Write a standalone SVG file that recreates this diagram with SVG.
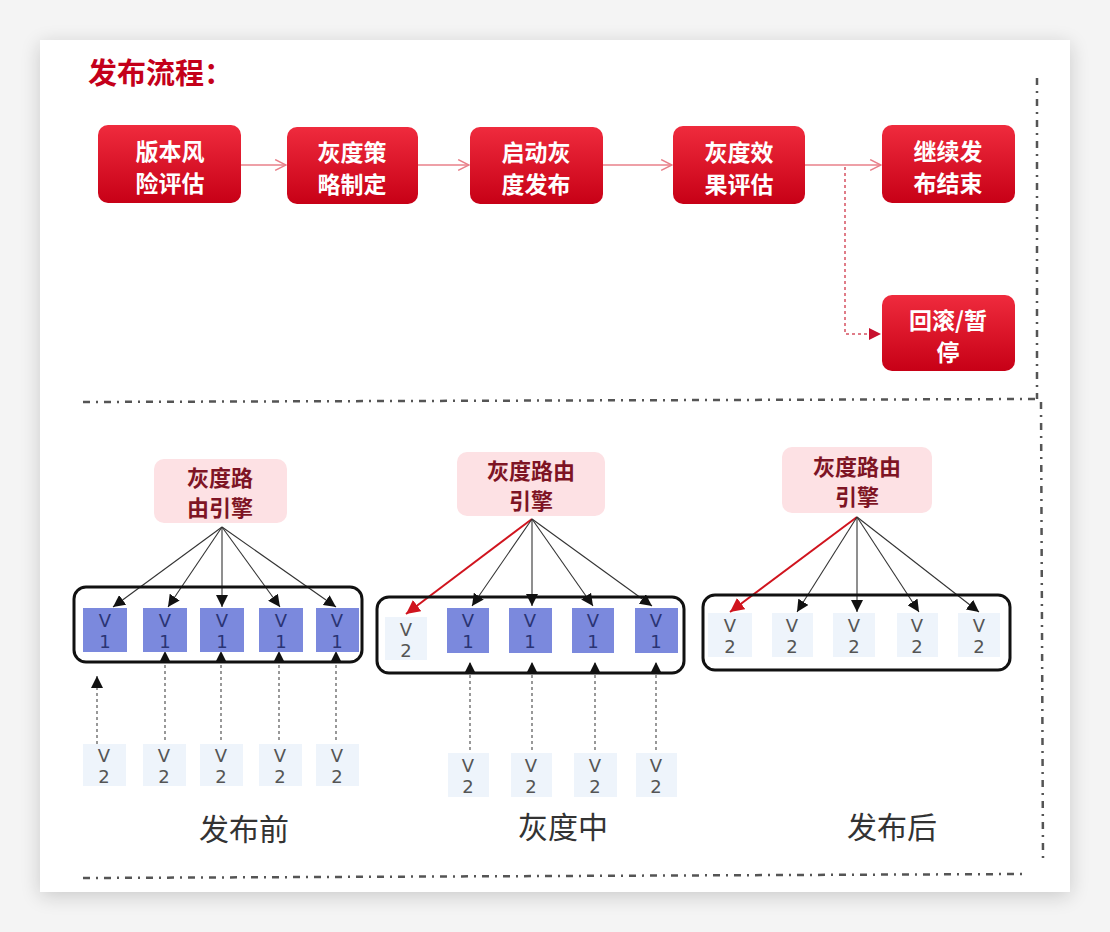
<svg xmlns="http://www.w3.org/2000/svg" width="1110" height="932" viewBox="0 0 1110 932">
<defs>
<linearGradient id="red" x1="0" y1="0" x2="0" y2="1">
<stop offset="0" stop-color="#ef2b3d"/>
<stop offset="1" stop-color="#c70016"/>
</linearGradient>
<filter id="shadow" x="-10%" y="-10%" width="120%" height="120%">
<feGaussianBlur in="SourceAlpha" stdDeviation="10"/>
<feOffset dx="0" dy="4"/>
<feComponentTransfer><feFuncA type="linear" slope="0.18"/></feComponentTransfer>
<feMerge><feMergeNode/><feMergeNode in="SourceGraphic"/></feMerge>
</filter>
<marker id="chev" viewBox="0 0 12 12" refX="11" refY="6" markerWidth="13" markerHeight="13" markerUnits="userSpaceOnUse" orient="auto">
<path d="M1,1 L11,6 L1,11" fill="none" stroke="#e8808a" stroke-width="1.4"/>
</marker>
<marker id="redtri" viewBox="0 0 10 10" refX="10" refY="5" markerWidth="12" markerHeight="12" markerUnits="userSpaceOnUse" orient="auto">
<path d="M0,0 L10,5 L0,10 Z" fill="#c8102e"/>
</marker>
<marker id="blk" viewBox="0 0 10 10" refX="10" refY="5" markerWidth="12" markerHeight="12" markerUnits="userSpaceOnUse" orient="auto">
<path d="M0,0 L10,5 L0,10 Z" fill="#111"/>
</marker>
<marker id="rd" viewBox="0 0 10 10" refX="10" refY="5" markerWidth="14" markerHeight="14" markerUnits="userSpaceOnUse" orient="auto">
<path d="M0,0 L10,5 L0,10 Z" fill="#d0141e"/>
</marker>
</defs>
<style>
.cn{font-family:"Noto Sans CJK SC","Noto Sans",sans-serif}
.node rect{fill:url(#red)}
.node text{fill:#fff;font-size:23px;font-weight:bold;text-anchor:middle;font-family:"Noto Sans CJK SC",sans-serif}
.eng rect{fill:#fde1e4}
.eng text{fill:#7e1424;font-size:22px;font-weight:bold;text-anchor:middle;font-family:"Noto Sans CJK SC",sans-serif}
.box{fill:none;stroke:#111;stroke-width:3}
.v1 rect{fill:#7b89dd}
.v1 text{fill:#2a3474;font-size:18px;text-anchor:middle;font-family:"DejaVu Sans",sans-serif}
.v2 rect{fill:#eef4fb}
.v2 text{fill:#555;font-size:18px;text-anchor:middle;font-family:"DejaVu Sans",sans-serif}
.flow{stroke:#e8808a;stroke-width:1.5;fill:none}
.flowdot{stroke:#e07c88;stroke-width:2;fill:none;stroke-dasharray:3,3}
.fan{stroke:#333;stroke-width:1.1;fill:none}
.fanred{stroke:#d0141e;stroke-width:2;fill:none}
.up{stroke:#555;stroke-width:1.2;fill:none;stroke-dasharray:3,3}
.frame{stroke:#555;stroke-width:2.5;fill:none;stroke-dasharray:7,6,2,6}
.lbl{fill:#333;font-size:30px;text-anchor:middle;font-family:"Noto Sans CJK SC",sans-serif}
</style>
<rect x="0" y="0" width="1110" height="932" fill="#f4f4f4"/>
<rect x="40" y="40" width="1030" height="852" fill="#fff" filter="url(#shadow)"/>

<text x="88" y="84" class="cn" font-size="29" font-weight="bold" fill="#c4001a">发布流程：</text>

<g id="frame">
<path class="frame" d="M83,402 L1037,399"/>
<path class="frame" d="M1037,78 L1037,399"/>
<path class="frame" d="M1041,402 L1043,858"/>
<path class="frame" d="M83,878 L1025,874"/>
</g>

<g id="connectors">
<path class="flow" d="M241,165 L286,165" marker-end="url(#chev)"/>
<path class="flow" d="M418,165 L469,165" marker-end="url(#chev)"/>
<path class="flow" d="M603,165 L672,165" marker-end="url(#chev)"/>
<path class="flow" d="M805,165 L881,165" marker-end="url(#chev)"/>
<path class="flowdot" d="M845,167 L845,334 L881,334" marker-end="url(#redtri)"/>

<path class="fan" d="M222,527 L113,607" marker-end="url(#blk)"/>
<path class="fan" d="M222,527 L168,607" marker-end="url(#blk)"/>
<path class="fan" d="M222,527 L222,607" marker-end="url(#blk)"/>
<path class="fan" d="M222,527 L280,607" marker-end="url(#blk)"/>
<path class="fan" d="M222,527 L336,607" marker-end="url(#blk)"/>
<path class="up" d="M97,750 L97,676" marker-end="url(#blk)"/>
<path class="up" d="M165,740 L165,651" marker-end="url(#blk)"/>
<path class="up" d="M221,740 L221,651" marker-end="url(#blk)"/>
<path class="up" d="M279,740 L279,651" marker-end="url(#blk)"/>
<path class="up" d="M336,740 L336,651" marker-end="url(#blk)"/>

<path class="fanred" d="M532,519 L406,614" marker-end="url(#rd)"/>
<path class="fan" d="M532,519 L472,606" marker-end="url(#blk)"/>
<path class="fan" d="M532,519 L532,606" marker-end="url(#blk)"/>
<path class="fan" d="M532,519 L593,606" marker-end="url(#blk)"/>
<path class="fan" d="M532,519 L652,606" marker-end="url(#blk)"/>
<path class="up" d="M470,750 L470,662" marker-end="url(#blk)"/>
<path class="up" d="M532,750 L532,662" marker-end="url(#blk)"/>
<path class="up" d="M595,750 L595,662" marker-end="url(#blk)"/>
<path class="up" d="M656,750 L656,662" marker-end="url(#blk)"/>

<path class="fanred" d="M857,517 L730,612" marker-end="url(#rd)"/>
<path class="fan" d="M857,517 L797,612" marker-end="url(#blk)"/>
<path class="fan" d="M857,517 L857,612" marker-end="url(#blk)"/>
<path class="fan" d="M857,517 L919,612" marker-end="url(#blk)"/>
<path class="fan" d="M857,517 L979,612" marker-end="url(#blk)"/>
</g>

<g id="n1" class="node"><rect x="98" y="125" width="143" height="78" rx="10"/><text x="170" y="160">版本风</text><text x="170" y="192">险评估</text></g>
<g id="n2" class="node"><rect x="287" y="127" width="131" height="77" rx="10"/><text x="352" y="161">灰度策</text><text x="352" y="193">略制定</text></g>
<g id="n3" class="node"><rect x="470" y="127" width="133" height="77" rx="10"/><text x="536" y="161">启动灰</text><text x="536" y="193">度发布</text></g>
<g id="n4" class="node"><rect x="673" y="126" width="132" height="78" rx="10"/><text x="739" y="161">灰度效</text><text x="739" y="193">果评估</text></g>
<g id="n5" class="node"><rect x="882" y="125" width="133" height="78" rx="10"/><text x="948" y="160">继续发</text><text x="948" y="192">布结束</text></g>
<g id="n6" class="node"><rect x="882" y="295" width="133" height="76" rx="10"/><text x="948" y="329">回滚/暂</text><text x="948" y="361">停</text></g>

<!-- before -->
<g id="e1" class="eng"><rect x="154" y="459" width="133" height="64" rx="10"/><text x="220" y="486">灰度路</text><text x="220" y="516">由引擎</text></g>
<g id="c1"><rect class="box" x="74" y="587" width="288" height="75" rx="12"/></g>
<g id="b1v1a" class="v1"><rect x="83" y="608" width="44" height="44"/><text x="105" y="627">V</text><text x="105" y="648">1</text></g>
<g id="b1v1b" class="v1"><rect x="143" y="608" width="44" height="44"/><text x="165" y="627">V</text><text x="165" y="648">1</text></g>
<g id="b1v1c" class="v1"><rect x="200" y="608" width="44" height="44"/><text x="222" y="627">V</text><text x="222" y="648">1</text></g>
<g id="b1v1d" class="v1"><rect x="259" y="608" width="44" height="44"/><text x="281" y="627">V</text><text x="281" y="648">1</text></g>
<g id="b1v1e" class="v1"><rect x="316" y="608" width="43" height="44"/><text x="337" y="627">V</text><text x="337" y="648">1</text></g>
<g id="b1v2a" class="v2"><rect x="83" y="744" width="43" height="42"/><text x="104" y="762">V</text><text x="104" y="783">2</text></g>
<g id="b1v2b" class="v2"><rect x="143" y="744" width="43" height="42"/><text x="164" y="762">V</text><text x="164" y="783">2</text></g>
<g id="b1v2c" class="v2"><rect x="200" y="744" width="43" height="42"/><text x="221" y="762">V</text><text x="221" y="783">2</text></g>
<g id="b1v2d" class="v2"><rect x="259" y="744" width="43" height="42"/><text x="280" y="762">V</text><text x="280" y="783">2</text></g>
<g id="b1v2e" class="v2"><rect x="316" y="744" width="43" height="42"/><text x="337" y="762">V</text><text x="337" y="783">2</text></g>
<text class="lbl" x="244" y="840">发布前</text>

<!-- during -->
<g id="e2" class="eng"><rect x="457" y="452" width="148" height="64" rx="10"/><text x="531" y="479">灰度路由</text><text x="531" y="509">引擎</text></g>
<g id="c2"><rect class="box" x="377" y="597" width="307" height="76" rx="12"/></g>
<g id="b2v2x" class="v2"><rect x="385" y="617" width="42" height="43"/><text x="406" y="636">V</text><text x="406" y="657">2</text></g>
<g id="b2v1a" class="v1"><rect x="447" y="608" width="42" height="45"/><text x="468" y="627">V</text><text x="468" y="648">1</text></g>
<g id="b2v1b" class="v1"><rect x="509" y="608" width="43" height="45"/><text x="530" y="627">V</text><text x="530" y="648">1</text></g>
<g id="b2v1c" class="v1"><rect x="572" y="608" width="42" height="45"/><text x="593" y="627">V</text><text x="593" y="648">1</text></g>
<g id="b2v1d" class="v1"><rect x="635" y="608" width="43" height="45"/><text x="656" y="627">V</text><text x="656" y="648">1</text></g>
<g id="b2v2a" class="v2"><rect x="448" y="753" width="41" height="44"/><text x="468" y="772">V</text><text x="468" y="793">2</text></g>
<g id="b2v2b" class="v2"><rect x="511" y="753" width="41" height="44"/><text x="531" y="772">V</text><text x="531" y="793">2</text></g>
<g id="b2v2c" class="v2"><rect x="574" y="753" width="43" height="44"/><text x="595" y="772">V</text><text x="595" y="793">2</text></g>
<g id="b2v2d" class="v2"><rect x="636" y="753" width="41" height="44"/><text x="656" y="772">V</text><text x="656" y="793">2</text></g>
<text class="lbl" x="563" y="838">灰度中</text>

<!-- after -->
<g id="e3" class="eng"><rect x="782" y="447" width="150" height="66" rx="10"/><text x="857" y="475">灰度路由</text><text x="857" y="505">引擎</text></g>
<g id="c3"><rect class="box" x="703" y="595" width="307" height="75" rx="12"/></g>
<g id="b3v2a" class="v2"><rect x="708" y="613" width="44" height="44"/><text x="730" y="632">V</text><text x="730" y="653">2</text></g>
<g id="b3v2b" class="v2"><rect x="772" y="613" width="41" height="44"/><text x="792" y="632">V</text><text x="792" y="653">2</text></g>
<g id="b3v2c" class="v2"><rect x="833" y="613" width="42" height="44"/><text x="854" y="632">V</text><text x="854" y="653">2</text></g>
<g id="b3v2d" class="v2"><rect x="897" y="613" width="41" height="44"/><text x="917" y="632">V</text><text x="917" y="653">2</text></g>
<g id="b3v2e" class="v2"><rect x="958" y="613" width="42" height="44"/><text x="979" y="632">V</text><text x="979" y="653">2</text></g>
<text class="lbl" x="892" y="838">发布后</text>
</svg>
